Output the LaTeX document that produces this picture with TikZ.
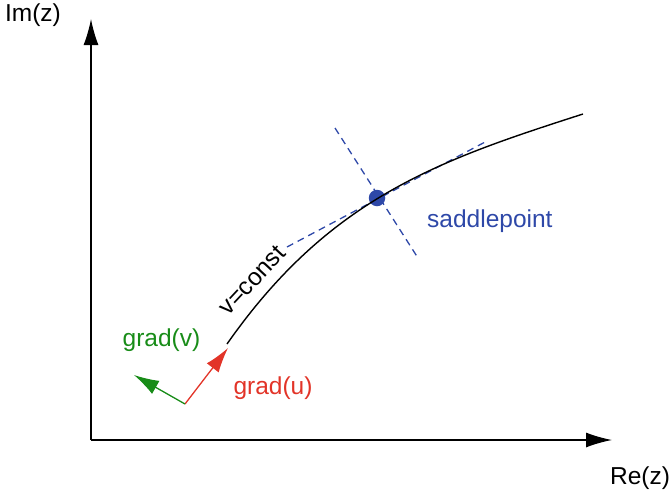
\documentclass[tikz,border=0pt]{standalone}
\usepackage{fontspec}
\setmainfont{Liberation Sans}
\usetikzlibrary{arrows.meta}
\definecolor{sadblue}{RGB}{46,72,168}
\definecolor{gradgreen}{RGB}{24,140,24}
\definecolor{gradred}{RGB}{226,52,40}

\begin{document}
\begin{tikzpicture}[x=1pt, y=-1pt, inner sep=0pt, font=\fontsize{24.5}{29}\selectfont,
  axis/.style={line width=1.4pt, -{Latex[length=26pt, width=15pt]}},
  gradarrow/.style={line width=1.3pt, -{Latex[length=25pt, width=15pt]}},
  tangent/.style={sadblue, line width=1.3pt, dash pattern=on 7pt off 5pt}]
  % pixel grid of the reference, y pointing down
  \useasboundingbox (0,0) rectangle (670,496);

  % axes
  \coordinate (o) at (91,440);
  \coordinate (xend) at (612,440);
  \coordinate (yend) at (91,19);
  \draw[axis] (o) -- (xend);
  \draw[axis] (o) -- (yend);
  \node (imz) at (33,15) {Im(z)};
  \node (rez) at (640,478) {Re(z)};

  % tangent and normal through the saddle point
  \coordinate (tana) at (287,247);
  \coordinate (tanb) at (487,141);
  \coordinate (nora) at (335,128);
  \coordinate (norb) at (418,258);
  \draw[tangent] (tana) -- (tanb);
  \draw[tangent] (nora) -- (norb);
  \node[circle, fill=sadblue, minimum size=16.5pt] (sp) at (377,198) {};
  \node[anchor=base west, text=sadblue] (splabel) at (427,227) {saddlepoint};

  % the level line v=const
  \coordinate (cstart) at (227,344);
  \coordinate (cend) at (583,114);
  \draw[line width=1.4pt] (cstart) .. controls (330,197) and (440,160) .. (cend);
  \node[rotate=47] (vconst) at (252,280) {v=const};

  % gradients at the foot of the curve
  \coordinate (foot) at (185,404);
  \coordinate (gu) at (228,348);
  \coordinate (gv) at (134,375);
  \draw[gradarrow, gradred] (foot) -- (gu);
  \draw[gradarrow, gradgreen] (foot) -- (gv);
  \node[text=gradgreen] (gvlabel) at (161.5,340) {grad(v)};
  \node[text=gradred] (gulabel) at (273,388.5) {grad(u)};
\end{tikzpicture}
\end{document}
